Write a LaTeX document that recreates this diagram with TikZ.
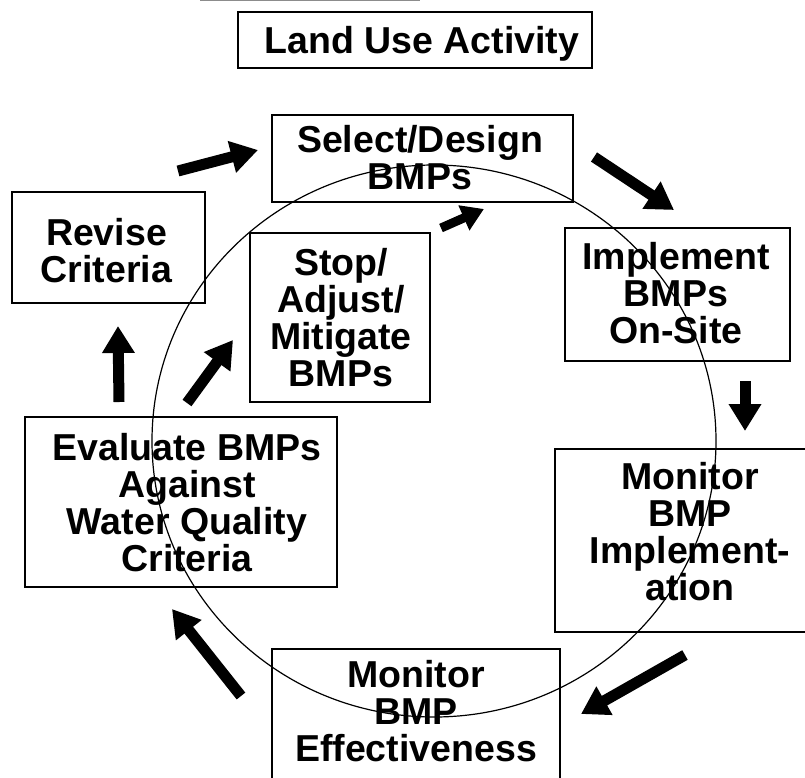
\documentclass[tikz,border=0pt]{standalone}
\usepackage{fontspec}
\setmainfont{Liberation Sans}
\usetikzlibrary{arrows.meta}
\tikzset{
  box/.style={draw=black, line width=1.5pt, inner sep=0pt},
  txt/.style={inner sep=0pt, align=center, text depth=0pt,
    font=\fontsize{37.5}{37}\selectfont\bfseries},
  fat/.style={line width=11pt, -{Triangle[width=31pt,length=27pt]}},
  ring/.style={line width=1.2pt}
}
\begin{document}
\begin{tikzpicture}[x=1pt,y=-1pt]
\useasboundingbox (0,0) rectangle (805,777);
\clip (0,0) rectangle (805,777);
% faint scan line at top
\draw[black!45, line width=1.2pt] (200,0.8) -- (420,0.8);
% ring
\draw[ring] (434,441) ellipse [x radius=282pt, y radius=276pt];
% boxes
\node[box, minimum width=354pt, minimum height=56pt] (land) at (415,40) {};
\node[txt] (landT) at (422,40) {Land Use Activity};
\node[box, minimum width=301pt, minimum height=87pt] (sel) at (422.5,158.5) {};
\node[txt] (selT) at (420,157.5) {Select/Design\\BMPs};
\node[box, minimum width=225pt, minimum height=133pt] (impl) at (677.5,294.5) {};
\node[txt] (implT) at (676,292.5) {Implement\\BMPs\\On-Site};
\node[box, minimum width=193pt, minimum height=111pt] (rev) at (108.5,247.5) {};
\node[txt] (revT) at (106.5,250) {Revise\\Criteria};
\node[box, minimum width=180pt, minimum height=169pt] (stop) at (340,317.5) {};
\node[txt] (stopT) at (341,317.5) {Stop/\\Adjust/\\Mitigate\\BMPs};
\node[box, minimum width=312pt, minimum height=170pt] (eval) at (181,502) {};
\node[txt] (evalT) at (187,502) {Evaluate BMPs\\Against\\Water Quality\\Criteria};
\node[box, minimum width=275pt, minimum height=183pt] (mon) at (692.5,540.5) {};
\node[txt] (monT) at (690,531.5) {Monitor\\BMP\\Implement-\\ation};
\node[box, minimum width=288pt, minimum height=151pt] (eff) at (416,724.5) {};
\node[txt] (effT) at (416,710.5) {Monitor\\BMP\\Effectiveness};
% arrow end points
\coordinate (a1s) at (178,171); \coordinate (a1e) at (258,150);
\coordinate (a2s) at (441,228); \coordinate (a2e) at (484,209);
\coordinate (a3s) at (594,157); \coordinate (a3e) at (674,210);
\coordinate (a4s) at (745,381); \coordinate (a4e) at (745,431);
\coordinate (a5s) at (685,655); \coordinate (a5e) at (581,714);
\coordinate (a6s) at (241,696); \coordinate (a6e) at (172,609);
\coordinate (a7s) at (119,402); \coordinate (a7e) at (118,326);
\coordinate (a8s) at (187,403); \coordinate (a8e) at (233,340);
\draw[fat] (a1s) -- (a1e);
\draw[fat, line width=9pt, -{Triangle[width=26pt,length=22pt]}] (a2s) -- (a2e);
\draw[fat] (a3s) -- (a3e);
\draw[fat] (a4s) -- (a4e);
\draw[fat] (a5s) -- (a5e);
\draw[fat] (a6s) -- (a6e);
\draw[fat] (a7s) -- (a7e);
\draw[fat] (a8s) -- (a8e);
\end{tikzpicture}
\end{document}
